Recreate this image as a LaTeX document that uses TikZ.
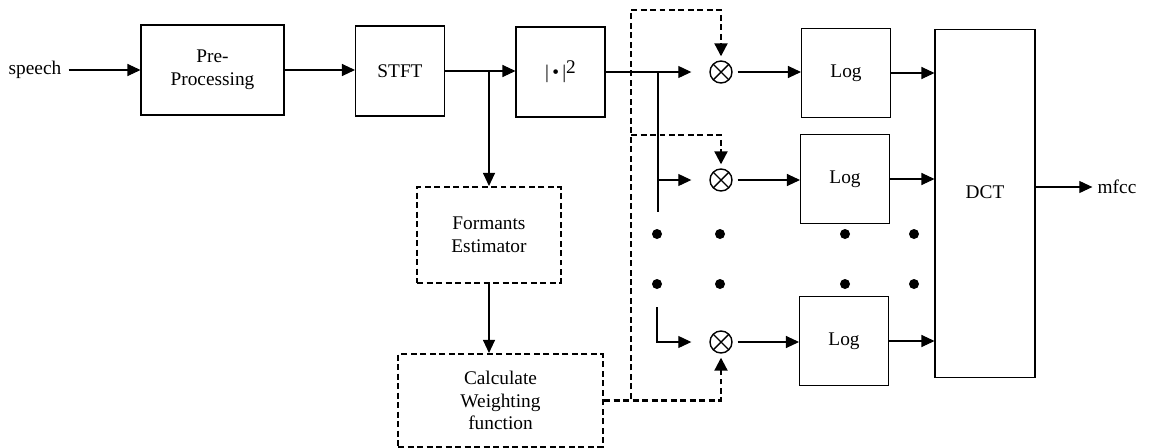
\documentclass[tikz,border=0pt]{standalone}
\usepackage{fontspec}
\setmainfont{Liberation Serif}
\usetikzlibrary{arrows.meta}

\begin{document}
\begin{tikzpicture}
[x=0.02cm, y=-0.02cm, font=\fontsize{11}{13}\selectfont,
  every node/.style={align=center, inner sep=0pt},
  blk/.style={draw, line width=0.6pt, minimum width=1.78cm, minimum height=1.78cm},
  wbox/.style={draw, line width=1.2pt, dash pattern=on 0.12cm off 0.07cm},
  mult/.style={circle, draw, line width=0.8pt, minimum size=0.44cm,
    path picture={\draw[line width=0.8pt] (path picture bounding box.north west) -- (path picture bounding box.south east)
      (path picture bounding box.north east) -- (path picture bounding box.south west);}},
  flow/.style={-{Triangle[length=0.26cm,width=0.24cm]}, line width=0.6pt},
  wline/.style={line width=1.2pt, dash pattern=on 0.12cm off 0.07cm},
  wtip/.style={-{Triangle[length=0.26cm,width=0.26cm]}, shorten >=0.08cm}]
  \useasboundingbox (0,0) rectangle (1150,447);
  % main chain
  \node (speech) at (35,70) {speech};
  \node[blk, minimum width=2.86cm, minimum height=1.8cm] (pre) at (212.5,70) {Pre-\\Processing};
  \node[blk, minimum height=1.8cm] (stft) at (400,71) {STFT};
  \node[blk, minimum height=1.8cm] (pow) at (560.5,72) {|\,\textbullet\,|\raisebox{.6ex}{2}};
  \node[wbox, minimum width=2.88cm, minimum height=1.92cm] (formants) at (489,235) {Formants\\Estimator};
  \node[wbox, minimum width=4.1cm, minimum height=1.86cm] (calc) at (500.5,400.5) {Calculate\\Weighting\\function};
  % filter bank rows
  \node[mult] (m1) at (721,72) {};
  \node[mult] (m2) at (721,180) {};
  \node[mult] (m3) at (721,342) {};
  \node[blk] (log1) at (846,73) {Log};
  \node[blk] (log2) at (845,179) {Log};
  \node[blk] (log3) at (844,341) {Log};
  \node[blk, minimum width=2cm, minimum height=6.98cm, text depth=0.45cm] (dct) at (985,203.5) {DCT};
  \node (mfcc) at (1117,187) {mfcc};
  \coordinate (tap1) at (658,72);
  \coordinate (tapend) at (658,212);
  \coordinate (tap3) at (657,307);
  \coordinate (bustop) at (631,10);
  \coordinate (busmid) at (631,135);

  \draw[flow, shorten <=0.14cm] (speech.east) -- (pre.west);
  \draw[flow] (pre.east) -- (pre.east -| stft.west);
  \draw[flow] (stft.east) -- (stft.east -| pow.west);
  \draw[flow] (stft.east -| formants.north) -- (formants.north);
  \draw[flow] (formants.south) -- (formants.south |- calc.north);
  \draw[flow, shorten >=0.36cm] (pow.east) -- (m1.west);
  \draw[line width=0.6pt] (tap1) -- (tapend);
  \draw[flow, shorten >=0.36cm] (tap1 |- m2) -- (m2.west);
  \draw[flow, shorten >=0.36cm] (tap3) |- (m3.west);
  \foreach \i in {1,2,3} {
    \draw[flow, shorten <=0.1cm] (m\i.east) -- (m\i.east -| log\i.west);
    \draw[flow] (log\i.east) -- (log\i.east -| dct.west);
  }
  \draw[flow, shorten >=0.1cm] (dct.east |- mfcc.west) -- (mfcc.west);

  % weighting lines
  \draw[wline] (calc.east) -| (bustop);
  \draw[wline, wtip] (bustop) -| (m1.north);
  \draw[wline, wtip] (busmid) -| (m2.north);
  \draw[wline, wtip] (calc.east) -| (m3.south);

  % dots
  \foreach \x in {657,720,845,914}
    \foreach \y in {234,284}
      \fill (\x,\y) circle (5);
\end{tikzpicture}
\end{document}
